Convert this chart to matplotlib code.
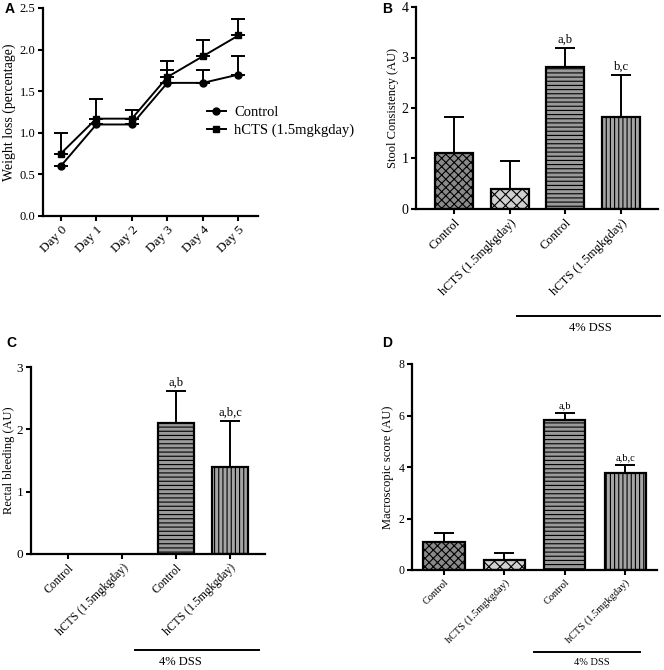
import numpy as np
import matplotlib
matplotlib.use("Agg")
import matplotlib.pyplot as plt

plt.rcParams["font.family"] = ["Liberation Serif", "DejaVu Serif"]
plt.rcParams["hatch.linewidth"] = 0.8
plt.rcParams["axes.linewidth"] = 1.6

W, H = 664, 670

# ---------------------------------------------------------------------------
# Data
# ---------------------------------------------------------------------------
days = ["Day 0", "Day 1", "Day 2", "Day 3", "Day 4", "Day 5"]
ctrl_weight = [0.60, 1.10, 1.10, 1.60, 1.60, 1.70]
ctrl_weight_err = [0.0, 0.0, 0.0, 0.16, 0.16, 0.22]
hcts_weight = [0.75, 1.17, 1.17, 1.67, 1.92, 2.17]
hcts_weight_err = [0.25, 0.24, 0.11, 0.19, 0.19, 0.20]

groups = ["Control", "hCTS (1.5mgkgday)", "Control", "hCTS (1.5mgkgday)"]

stool = [1.10, 0.40, 2.82, 1.83]
stool_err = [0.73, 0.55, 0.36, 0.83]
stool_sig = ["", "", "a,b", "b,c"]

bleeding = [0.0, 0.0, 2.10, 1.40]
bleeding_err = [0.0, 0.0, 0.52, 0.74]
bleeding_sig = ["", "", "a,b", "a,b,c"]

macro = [1.10, 0.40, 5.82, 3.75]
macro_err = [0.32, 0.25, 0.28, 0.32]
macro_sig = ["", "", "a,b", "a,b,c"]


def px_axes(fig, left, top, right, bottom):
    return fig.add_axes([left / W, 1 - bottom / H, (right - left) / W,
                         (bottom - top) / H])


def style_axes(ax):
    ax.spines["top"].set_visible(False)
    ax.spines["right"].set_visible(False)
    ax.tick_params(direction="out", width=1.5, length=3.5, pad=2,
                   color="black")


BAR_STYLE = [
    dict(facecolor="#8a8a8a", hatch="xxxx"),
    dict(facecolor="#d0d0d0", hatch="xxx"),
    dict(facecolor="#9a9a9a", hatch="----"),
    dict(facecolor="#a5a5a5", hatch="||||"),
]


def bar_panel(ax, values, errs, sigs, fs_tick, fs_lab, ylabel, ymax, ystep,
              sig_fs, label_x):
    x = np.arange(len(values))
    for i in range(len(values)):
        if values[i] > 0:
            ax.bar(x[i], values[i], width=0.68, edgecolor="black",
                   linewidth=1.6, **BAR_STYLE[i], zorder=2)
    ax.errorbar(x, values, yerr=[np.zeros(len(x)), errs], fmt="none",
                ecolor="black", elinewidth=1.4, capsize=7, capthick=1.4,
                zorder=3)
    for i in range(len(values)):
        if sigs[i]:
            ax.text(x[i], values[i] + errs[i] + ymax * 0.012, sigs[i],
                    ha="center", va="bottom", fontsize=sig_fs)
    ax.set_ylim(0, ymax)
    ax.set_yticks(np.arange(0, ymax + 0.01, ystep))
    ax.set_xticks(x)
    ax.set_xticklabels(groups, rotation=45, ha="right",
                       rotation_mode="anchor", fontsize=fs_tick)
    ax.tick_params(axis="y", labelsize=fs_tick + 1)
    ax.set_ylabel(ylabel, fontsize=fs_lab)
    ax.yaxis.set_label_coords(label_x, 0.5)
    style_axes(ax)


def dss_line(ax, x0, x1, y, tx, ty, fs):
    ax.plot([x0, x1], [y, y], color="black", lw=1.4,
            transform=ax.transAxes, clip_on=False)
    ax.text(tx, ty, "4% DSS", transform=ax.transAxes, ha="center",
            va="center", fontsize=fs)


fig = plt.figure(figsize=(W / 100, H / 100), dpi=100)

# ---------------------------------------------------------------------------
# A - weight loss
# ---------------------------------------------------------------------------
axA = px_axes(fig, 43, 8, 258, 216)
xd = np.arange(len(days))
c1 = axA.errorbar(xd, ctrl_weight, yerr=[np.zeros(len(xd)), ctrl_weight_err],
                  color="black", marker="o", ms=5, lw=1.4, capsize=5,
                  elinewidth=1.4, capthick=1.4)
c2 = axA.errorbar(xd, hcts_weight, yerr=[np.zeros(len(xd)), hcts_weight_err],
                  color="black", marker="s", ms=5, lw=1.4, capsize=5,
                  elinewidth=1.4, capthick=1.4)
axA.set_xlim(-0.5, 5.55)
axA.set_ylim(0, 2.5)
axA.set_yticks(np.arange(0, 2.51, 0.5))
axA.set_yticklabels([f"{v:.1f}" for v in np.arange(0, 2.51, 0.5)],
                    fontsize=9)
axA.set_xticks(xd)
axA.set_xticklabels(days, rotation=45, ha="right", rotation_mode="anchor",
                    fontsize=9.5)
axA.set_ylabel("Weight loss (percentage)", fontsize=10)
style_axes(axA)
axA.yaxis.set_label_coords(-0.125, 0.5)
axA.legend([c1.lines[0], c2.lines[0]], ["Control", "hCTS (1.5mgkgday)"],
           loc="center left", bbox_to_anchor=(0.7, 0.455), frameon=False,
           fontsize=10.5, handlelength=1.3, handletextpad=0.6,
           labelspacing=0.3)

# ---------------------------------------------------------------------------
# B - stool consistency
# ---------------------------------------------------------------------------
axB = px_axes(fig, 416, 7, 658, 209)
bar_panel(axB, stool, stool_err, stool_sig, 9, 9, "Stool Consistency (AU)",
          4, 1, 9, -0.07)
axB.set_xlim(-0.68, 3.66)
dss_line(axB, 0.417, 1.01, -0.53, 0.72, -0.59, 9)

# ---------------------------------------------------------------------------
# C - rectal bleeding
# ---------------------------------------------------------------------------
axC = px_axes(fig, 31, 367, 265, 554)
bar_panel(axC, bleeding, bleeding_err, bleeding_sig, 8.5, 9,
          "Rectal bleeding (AU)", 3, 1, 9, -0.068)
axC.set_xlim(-0.69, 3.65)
dss_line(axC, 0.444, 0.974, -0.513, 0.64, -0.58, 9)

# ---------------------------------------------------------------------------
# D - macroscopic score
# ---------------------------------------------------------------------------
axD = px_axes(fig, 412, 364, 657, 570)
bar_panel(axD, macro, macro_err, macro_sig, 7.5, 9,
          "Macroscopic score (AU)", 8, 2, 7.5, -0.075)
axD.set_xlim(-0.53, 3.53)
dss_line(axD, 0.498, 0.93, -0.40, 0.735, -0.45, 7.5)

# panel letters
for lab, px, py in [("A", 5, 9), ("B", 382, 9), ("C", 6, 343),
                    ("D", 382, 343)]:
    fig.text(px / W, 1 - py / H, lab, fontsize=10, fontweight="bold",
             family="Liberation Sans", ha="left", va="center")

fig.savefig("out.png", dpi=100)
